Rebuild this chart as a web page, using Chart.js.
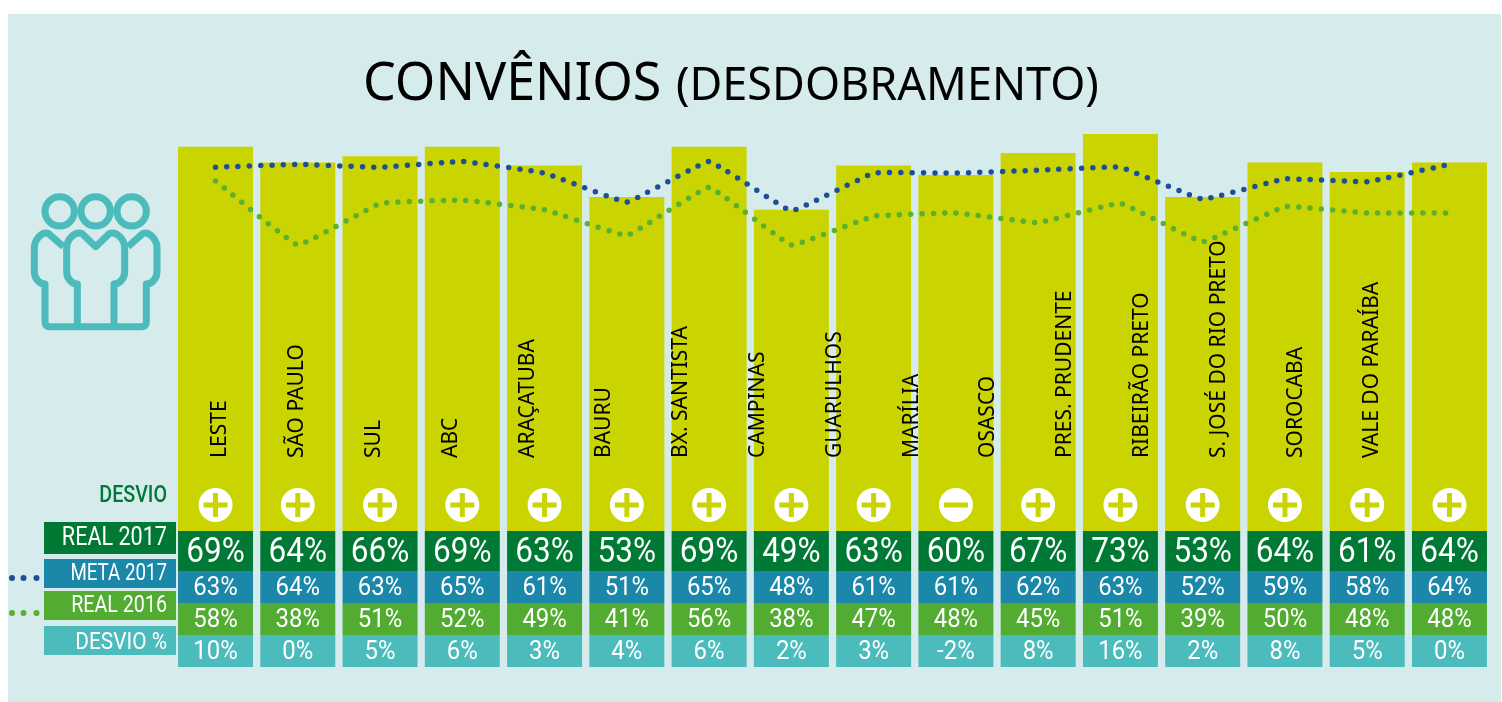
<!DOCTYPE html>
<html>
<head>
<meta charset="utf-8">
<title>Convênios (desdobramento)</title>
<script src="https://cdn.jsdelivr.net/npm/chart.js@4/dist/chart.umd.min.js"></script>
<style>
  html, body { margin: 0; padding: 0; background: #fff; }
  canvas { display: block; }
</style>
</head>
<body>
<canvas id="chart" width="1502" height="702"></canvas>
<script>
// Data
const regions = ["LESTE", "SÃO PAULO", "SUL", "ABC", "ARAÇATUBA", "BAURU", "BX. SANTISTA", "CAMPINAS",
  "GUARULHOS", "MARÍLIA", "OSASCO", "PRES. PRUDENTE", "RIBEIRÃO PRETO", "S. JOSÉ DO RIO PRETO", "SOROCABA", "VALE DO PARAÍBA"];
const real2017 = [69, 64, 66, 69, 63, 53, 69, 49, 63, 60, 67, 73, 53, 64, 61, 64];
const meta2017 = [63, 64, 63, 65, 61, 51, 65, 48, 61, 61, 62, 63, 52, 59, 58, 64];
const real2016 = [58, 38, 51, 52, 49, 41, 56, 38, 47, 48, 45, 51, 39, 50, 48, 48];
const desvio = [10, 0, 5, 6, 3, 4, 6, 2, 3, -2, 8, 16, 2, 8, 5, 0];

// Colours
const PANEL = "#d6ebec";
const BAR = "#c9d400";
const GREEN_DARK = "#007935";
const BLUE = "#1b87a9";
const GREEN = "#52ac31";
const TEAL = "#4cbbbb";
const LINE_BLUE = "#1d4f96";
const LINE_GREEN = "#5bb030";

const FONT_NUM = "Roboto";
const FONT_TXT = "'Noto Sans'";

// Table rows under the bars
const rows = [
  {top: 531, bottom: 571, color: GREEN_DARK, values: real2017, size: 35, sx: 0.9, textY: 553.5},
  {top: 571, bottom: 603, color: BLUE, values: meta2017, size: 26, sx: 0.92, textY: 588},
  {top: 603, bottom: 635, color: GREEN, values: real2016, size: 26, sx: 0.92, textY: 620},
  {top: 635, bottom: 667, color: TEAL, values: desvio, size: 26, sx: 0.92, textY: 652}
];
// Row names on the left
const rowLabels = [
  {text: "REAL 2017", top: 522, bottom: 554, color: GREEN_DARK, size: 26, sx: 0.83, textY: 538},
  {text: "META 2017", top: 559, bottom: 588, color: BLUE, size: 24, sx: 0.78, textY: 574},
  {text: "REAL 2016", top: 591, bottom: 620, color: GREEN, size: 24, sx: 0.82, textY: 606},
  {text: "DESVIO %", top: 626, bottom: 655, color: TEAL, size: 24, sx: 0.87, textY: 643}
];

/**
 * Draws text squeezed horizontally, the installed fonts are wider than the original one.
 */
function squeezedText(ctx, text, x, y, font, color, align, sx){
  ctx.save();
  ctx.translate(x, y);
  ctx.scale(sx, 1);
  ctx.font = font;
  ctx.fillStyle = color;
  ctx.textAlign = align;
  ctx.textBaseline = "middle";
  ctx.fillText(text, 0, 0);
  ctx.restore();
}

/**
 * Draws the three people icon, path points are in 3x zoomed units.
 */
function drawPeople(ctx){
  ctx.save();
  ctx.translate(0, 130);
  ctx.scale(1 / 3, 1 / 3);
  ctx.strokeStyle = TEAL;
  ctx.lineWidth = 21;
  ctx.lineJoin = "round";
  [179, 287, 395].forEach(x => {
    ctx.beginPath();
    ctx.arc(x, 244, 44, 0, Math.PI * 2);
    ctx.stroke();
  });
  let center = new Path2D("M287 350 L245 310 C220 305 200 330 200 355 L200 425 C200 445 215 462 232 462 L232 590 L342 590 L342 462 C359 462 374 445 374 425 L374 355 C374 330 354 305 329 310 Z");
  let left = new Path2D("M190 350 L145 310 C123 305 103 330 103 355 L103 425 C103 445 118 462 135 462 L135 575 Q135 590 150 590 L232 590");
  let right = new Path2D("M384 350 L429 310 C451 305 471 330 471 355 L471 425 C471 445 456 462 439 462 L439 575 Q439 590 424 590 L342 590");
  ctx.stroke(center);
  ctx.stroke(left);
  ctx.stroke(right);
  ctx.restore();
}

const backgroundPlugin = {
  id: "panelBackground",
  beforeDraw(chart){
    let ctx = chart.ctx;
    ctx.save();
    ctx.fillStyle = PANEL;
    ctx.fillRect(8, 14, 1493, 688);
    ctx.restore();
  }
};

const tablePlugin = {
  id: "table",
  afterDatasetsDraw(chart){
    let ctx = chart.ctx;
    let bars = chart.getDatasetMeta(0).data;

    // title
    ctx.save();
    ctx.fillStyle = "#000";
    ctx.textBaseline = "alphabetic";
    ctx.textAlign = "left";
    ctx.font = "52px " + FONT_TXT;
    ctx.fillText("CONVÊNIOS", 363, 100);
    ctx.font = "45px " + FONT_TXT;
    ctx.fillText("(DESDOBRAMENTO)", 676, 100);
    ctx.restore();

    drawPeople(ctx);

    // region names are spaced a bit tighter than the bars in the original
    regions.forEach((name, i) => {
      ctx.save();
      ctx.translate(220.5 + i * 76.8, 458);
      ctx.rotate(-Math.PI / 2);
      ctx.font = "21px " + FONT_TXT;
      ctx.fillStyle = "#000";
      ctx.textAlign = "left";
      ctx.textBaseline = "middle";
      ctx.fillText(name, 0, 0);
      ctx.restore();
    });

    // plus or minus sign of the deviation
    squeezedText(ctx, "DESVIO", 167, 496, "500 24px " + FONT_NUM, GREEN_DARK, "right", 0.82);
    bars.forEach((bar, i) => {
      ctx.save();
      ctx.fillStyle = "#fff";
      ctx.beginPath();
      ctx.arc(bar.x, 505, 17, 0, Math.PI * 2);
      ctx.fill();
      ctx.fillStyle = BAR;
      ctx.fillRect(bar.x - 12, 502.5, 24, 5);
      if(desvio[i] >= 0){
        ctx.fillRect(bar.x - 2.5, 493, 5, 24);
      }
      ctx.restore();
    });

    // coloured rows
    rows.forEach(row => {
      bars.forEach((bar, i) => {
        ctx.fillStyle = row.color;
        ctx.fillRect(bar.x - bar.width / 2, row.top, bar.width, row.bottom - row.top);
        squeezedText(ctx, row.values[i] + "%", bar.x, row.textY, row.size + "px " + FONT_NUM, "#fff", "center", row.sx);
      });
    });

    // row names
    rowLabels.forEach(label => {
      ctx.fillStyle = label.color;
      ctx.fillRect(44, label.top, 132, label.bottom - label.top);
      squeezedText(ctx, label.text, 167, label.textY, label.size + "px " + FONT_NUM, "#fff", "right", label.sx);
    });

    // dots beside the line rows
    [[578, LINE_BLUE], [613, LINE_GREEN]].forEach(([y, color]) => {
      [12, 23.5, 36.5].forEach(x => {
        ctx.fillStyle = color;
        ctx.beginPath();
        ctx.arc(x, y, 3, 0, Math.PI * 2);
        ctx.fill();
      });
    });
  }
};

new Chart(document.getElementById("chart"), {
  data: {
    labels: regions,
    datasets: [
      {
        type: "bar",
        label: "REAL 2017",
        data: real2017,
        backgroundColor: BAR,
        base: -53,
        barPercentage: 0.9116,
        categoryPercentage: 1,
        yAxisID: "y",
        order: 3
      },
      {
        type: "line",
        label: "META 2017",
        data: meta2017,
        borderColor: LINE_BLUE,
        borderWidth: 5.5,
        borderCapStyle: "round",
        borderDash: [0, 11.3],
        tension: 0.07,
        pointRadius: 0,
        yAxisID: "yMeta",
        order: 1
      },
      {
        type: "line",
        label: "REAL 2016",
        data: real2016,
        borderColor: LINE_GREEN,
        borderWidth: 5.5,
        borderCapStyle: "round",
        borderDash: [0, 11.3],
        tension: 0.07,
        pointRadius: 0,
        yAxisID: "y2016",
        order: 2
      }
    ]
  },
  options: {
    responsive: false,
    animation: false,
    layout: {padding: {left: 174.4, right: 11.4, top: 124.65, bottom: 171}},
    plugins: {
      legend: {display: false},
      tooltip: {enabled: false},
      title: {display: false}
    },
    scales: {
      x: {display: false, grid: {display: false}},
      y: {display: false, min: -53, max: 76},
      yMeta: {display: false, min: -62.4, max: 77.7},
      y2016: {display: false, min: -51.4, max: 75.6}
    }
  },
  plugins: [backgroundPlugin, tablePlugin]
});
</script>
</body>
</html>
